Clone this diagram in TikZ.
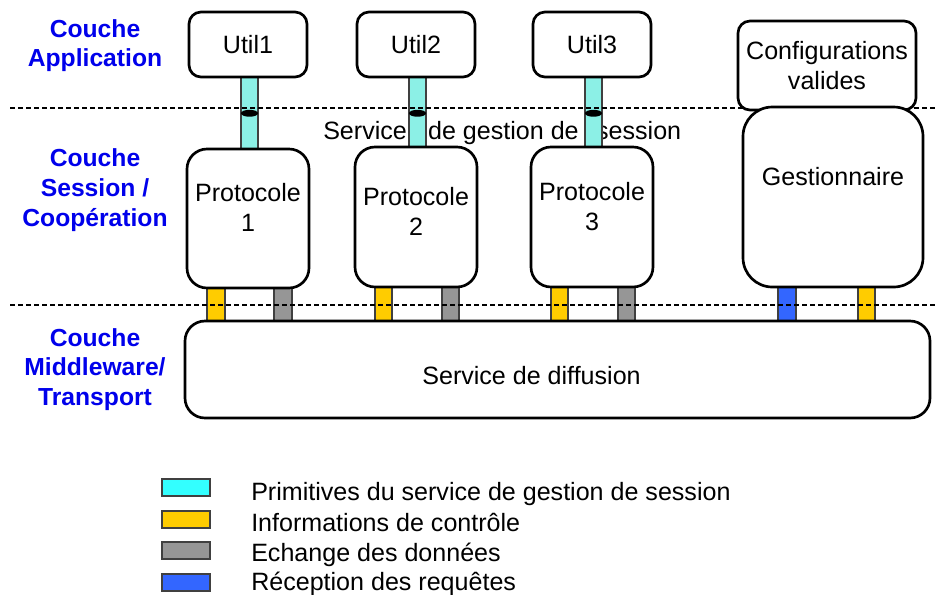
\documentclass[tikz,border=0pt]{standalone}
\usepackage{fontspec}
\setmainfont{Liberation Sans}
\usetikzlibrary{calc}
\definecolor{lblblue}{RGB}{0,0,235}
\definecolor{stemcyan}{RGB}{140,240,230}
\definecolor{legcyan}{RGB}{51,255,255}
\definecolor{ctrlyellow}{RGB}{255,204,0}
\definecolor{datagray}{RGB}{150,150,150}
\definecolor{reqblue}{RGB}{51,102,255}
\tikzset{
  box/.style={draw=black, line width=2pt, fill=white, inner sep=0pt},
  txt/.style={inner sep=0pt, font=\fontsize{18.8}{22.5}\selectfont, align=center},
  layerlbl/.style={inner sep=0pt, font=\fontsize{18.5}{22.3}\selectfont\bfseries, text=lblblue, align=center},
  conn/.style={draw=black!75, line width=0.9pt},
  sep/.style={draw=black, line width=1.1pt, dash pattern=on 3.4pt off 2.6pt},
}
\begin{document}
\begin{tikzpicture}[x=0.75pt, y=-0.75pt]
\useasboundingbox (0,0) rectangle (935,594);

% layer labels
\node[layerlbl] (lapp) at (95,45.5) {Couche\\Application};
\node[layerlbl] (lses) at (95,190) {Couche\\Session /\\Coopération};
\node[layerlbl] (lmid) at (95,369.5) {Couche\\Middleware/\\Transport};

% node placeholders (geometry)
\path (248,44.5) node[minimum width=88.5pt, minimum height=48.75pt, inner sep=0pt] (u1) {};
\path (416,44.5) node[minimum width=88.5pt, minimum height=48.75pt, inner sep=0pt] (u2) {};
\path (592,44.5) node[minimum width=88.5pt, minimum height=48.75pt, inner sep=0pt] (u3) {};
\path (248,218.5) node[minimum width=91.5pt, minimum height=104.25pt, inner sep=0pt] (p1) {};
\path (416,217) node[minimum width=91.5pt, minimum height=105pt, inner sep=0pt] (p2) {};
\path (592,217) node[minimum width=91.5pt, minimum height=105pt, inner sep=0pt] (p3) {};
\path (833,197) node[minimum width=135pt, minimum height=135pt, inner sep=0pt] (gest) {};
\path (557.5,369.5) node[minimum width=558.75pt, minimum height=72.75pt, inner sep=0pt] (diff) {};

% session service text (under stems)
\node[txt, anchor=base west] (sgs) at (323,139) {Service\hspace{0.85em}de gestion de\hspace{0.7em}session};

% cyan stems
\draw[conn, fill=stemcyan] ($(u1.south)+(-7,0)$) rectangle ($(p1.north)+(10,0)$);
\draw[conn, fill=stemcyan] ($(u2.south)+(-7,0)$) rectangle ($(p2.north)+(10,0)$);
\draw[conn, fill=stemcyan] ($(u3.south)+(-7,0)$) rectangle ($(p3.north)+(10,0)$);

% bottom connectors
\draw[conn, fill=ctrlyellow] ($(p1.south)+(-41,0)$) rectangle ($(p1.south|-diff.north)+(-23,0)$);
\draw[conn, fill=datagray]   ($(p1.south)+(26,0)$) rectangle ($(p1.south|-diff.north)+(44,0)$);
\draw[conn, fill=ctrlyellow] ($(p2.south)+(-41,0)$) rectangle ($(p2.south|-diff.north)+(-24,0)$);
\draw[conn, fill=datagray]   ($(p2.south)+(26,0)$) rectangle ($(p2.south|-diff.north)+(43,0)$);
\draw[conn, fill=ctrlyellow] ($(p3.south)+(-41,0)$) rectangle ($(p3.south|-diff.north)+(-24,0)$);
\draw[conn, fill=datagray]   ($(p3.south)+(26,0)$) rectangle ($(p3.south|-diff.north)+(43,0)$);
\draw[conn, fill=reqblue]    ($(gest.south)+(-55,0)$) rectangle ($(gest.south|-diff.north)+(-37,0)$);
\draw[conn, fill=ctrlyellow] ($(gest.south)+(25,0)$) rectangle ($(gest.south|-diff.north)+(42,0)$);

% dashed layer separators
\coordinate (s1a) at (10,108);
\coordinate (s1b) at (935,108);
\coordinate (s2a) at (10,305);
\coordinate (s2b) at (935,305);
\draw[sep] (s1a) -- (s1b);
\draw[sep] (s2a) -- (s2b);

% SAP ellipses
\fill ($(u1.south)+(1.5,36)$) ellipse [x radius=6.4pt, y radius=2.6pt];
\fill ($(u2.south)+(1.5,36)$) ellipse [x radius=6.4pt, y radius=2.6pt];
\fill ($(u3.south)+(1.5,36)$) ellipse [x radius=6.4pt, y radius=2.6pt];

% boxes
\node[box, rounded corners=9pt, minimum width=88.5pt, minimum height=48.75pt, txt] (bu1) at (u1) {Util1};
\node[box, rounded corners=9pt, minimum width=88.5pt, minimum height=48.75pt, txt] (bu2) at (u2) {Util2};
\node[box, rounded corners=9pt, minimum width=88.5pt, minimum height=48.75pt, txt] (bu3) at (u3) {Util3};
\node[box, rounded corners=15pt, minimum width=91.5pt, minimum height=104.25pt] (bp1) at (p1) {};
\node[box, rounded corners=15pt, minimum width=91.5pt, minimum height=105pt] (bp2) at (p2) {};
\node[box, rounded corners=15pt, minimum width=91.5pt, minimum height=105pt] (bp3) at (p3) {};
\node[txt] (tp1) at (248,207) {Protocole\\1};
\node[txt] (tp2) at (416,211) {Protocole\\2};
\node[txt] (tp3) at (592,207) {Protocole\\3};
\node[box, rounded corners=9pt, minimum width=133.5pt, minimum height=66.75pt, txt] (conf) at (827,65.5) {Configurations\\valides};
\node[box, rounded corners=22pt, minimum width=135pt, minimum height=135pt] (bgest) at (gest) {};
\node[txt] (tgest) at (833,177) {Gestionnaire};
\node[box, rounded corners=15pt, minimum width=558.75pt, minimum height=72.75pt] (bdiff) at (diff) {};
\node[txt] (tdiff) at (531.5,376) {Service de diffusion};

% legend
\draw[conn, fill=legcyan]    (162,479) rectangle (210,496) coordinate (k1);
\draw[conn, fill=ctrlyellow] (162,511) rectangle (210,528) coordinate (k2);
\draw[conn, fill=datagray]   (162,542) rectangle (210,559) coordinate (k3);
\draw[conn, fill=reqblue]    (162,574) rectangle (210,591) coordinate (k4);
\node[txt, anchor=base west] (l1) at (251,500) {Primitives du service de gestion de session};
\node[txt, anchor=base west] (l2) at (251,531) {Informations de contrôle};
\node[txt, anchor=base west] (l3) at (251,561) {Echange des données};
\node[txt, anchor=base west] (l4) at (251,590) {Réception des requêtes};
\end{tikzpicture}
\end{document}
